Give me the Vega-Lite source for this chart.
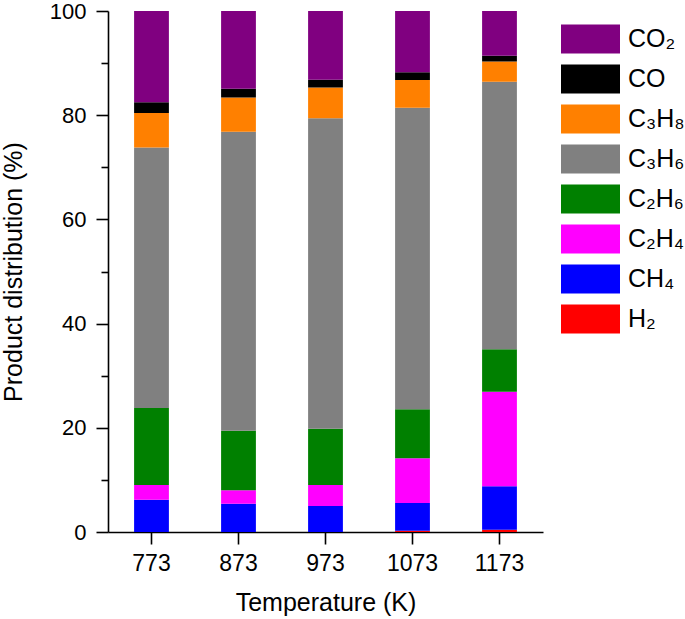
{
  "$schema": "https://vega.github.io/schema/vega-lite/v6.json",
  "width": 435,
  "height": 521,
  "autosize": "none",
  "padding": {"left": 108, "top": 11, "right": 142, "bottom": 87},
  "config": {
    "view": {"stroke": null},
    "font": "Liberation Sans",
    "axis": {
      "domainColor": "black",
      "domainWidth": 1.6,
      "tickColor": "black",
      "tickWidth": 1.6,
      "labelColor": "black",
      "titleColor": "black",
      "labelFont": "Liberation Sans",
      "titleFont": "Liberation Sans",
      "titleFontWeight": "normal",
      "grid": false
    }
  },
  "data": {
    "values": [
      {"T": "773", "gas": "H₂", "k": 1, "pct": 0},
      {"T": "773", "gas": "CH₄", "k": 2, "pct": 6.2},
      {"T": "773", "gas": "C₂H₄", "k": 3, "pct": 2.8},
      {"T": "773", "gas": "C₂H₆", "k": 4, "pct": 14.8},
      {"T": "773", "gas": "C₃H₆", "k": 5, "pct": 50.0},
      {"T": "773", "gas": "C₃H₈", "k": 6, "pct": 6.6},
      {"T": "773", "gas": "CO", "k": 7, "pct": 2.1},
      {"T": "773", "gas": "CO₂", "k": 8, "pct": 17.5},
      {"T": "873", "gas": "H₂", "k": 1, "pct": 0},
      {"T": "873", "gas": "CH₄", "k": 2, "pct": 5.4},
      {"T": "873", "gas": "C₂H₄", "k": 3, "pct": 2.6},
      {"T": "873", "gas": "C₂H₆", "k": 4, "pct": 11.45},
      {"T": "873", "gas": "C₃H₆", "k": 5, "pct": 57.35},
      {"T": "873", "gas": "C₃H₈", "k": 6, "pct": 6.6},
      {"T": "873", "gas": "CO", "k": 7, "pct": 1.7},
      {"T": "873", "gas": "CO₂", "k": 8, "pct": 14.9},
      {"T": "973", "gas": "H₂", "k": 1, "pct": 0},
      {"T": "973", "gas": "CH₄", "k": 2, "pct": 5.0},
      {"T": "973", "gas": "C₂H₄", "k": 3, "pct": 4.0},
      {"T": "973", "gas": "C₂H₆", "k": 4, "pct": 10.8},
      {"T": "973", "gas": "C₃H₆", "k": 5, "pct": 59.6},
      {"T": "973", "gas": "C₃H₈", "k": 6, "pct": 5.9},
      {"T": "973", "gas": "CO", "k": 7, "pct": 1.5},
      {"T": "973", "gas": "CO₂", "k": 8, "pct": 13.2},
      {"T": "1073", "gas": "H₂", "k": 1, "pct": 0.25},
      {"T": "1073", "gas": "CH₄", "k": 2, "pct": 5.3},
      {"T": "1073", "gas": "C₂H₄", "k": 3, "pct": 8.6},
      {"T": "1073", "gas": "C₂H₆", "k": 4, "pct": 9.4},
      {"T": "1073", "gas": "C₃H₆", "k": 5, "pct": 57.9},
      {"T": "1073", "gas": "C₃H₈", "k": 6, "pct": 5.3},
      {"T": "1073", "gas": "CO", "k": 7, "pct": 1.5},
      {"T": "1073", "gas": "CO₂", "k": 8, "pct": 11.75},
      {"T": "1173", "gas": "H₂", "k": 1, "pct": 0.45},
      {"T": "1173", "gas": "CH₄", "k": 2, "pct": 8.35},
      {"T": "1173", "gas": "C₂H₄", "k": 3, "pct": 18.1},
      {"T": "1173", "gas": "C₂H₆", "k": 4, "pct": 8.2},
      {"T": "1173", "gas": "C₃H₆", "k": 5, "pct": 51.3},
      {"T": "1173", "gas": "C₃H₈", "k": 6, "pct": 3.9},
      {"T": "1173", "gas": "CO", "k": 7, "pct": 1.1},
      {"T": "1173", "gas": "CO₂", "k": 8, "pct": 8.6}
    ]
  },
  "layer": [
    {
      "mark": {"type": "bar"},
      "encoding": {
        "x": {
          "field": "T",
          "type": "ordinal",
          "sort": ["773", "873", "973", "1073", "1173"],
          "scale": {"paddingInner": 0.6, "paddingOuter": 0.3},
          "axis": {
            "title": "Temperature (K)",
            "labelAngle": 0,
            "labelFontSize": 23,
            "titleFontSize": 25,
            "tickSize": 12,
            "labelPadding": 8,
            "titlePadding": 15
          }
        },
        "y": {
          "field": "pct",
          "type": "quantitative",
          "stack": "zero",
          "scale": {"domain": [0, 100], "nice": false},
          "axis": {
            "values": [0, 20, 40, 60, 80, 100],
            "title": "Product distribution (%)",
            "labelFontSize": 22,
            "titleFontSize": 25,
            "tickSize": 12,
            "labelPadding": 10,
            "titlePadding": 23
          }
        },
        "order": {"field": "k", "type": "quantitative", "sort": "ascending"},
        "color": {
          "field": "gas",
          "type": "nominal",
          "scale": {
            "domain": ["CO₂", "CO", "C₃H₈", "C₃H₆", "C₂H₆", "C₂H₄", "CH₄", "H₂"],
            "range": ["#800080", "#000000", "#FF8000", "#808080", "#008000", "#FF00FF", "#0000FF", "#FF0000"]
          },
          "legend": {
            "orient": "none",
            "legendX": 453,
            "legendY": 8,
            "title": null,
            "symbolType": "M-1,-0.49H1V0.49H-1Z",
            "symbolSize": 3481,
            "symbolStrokeWidth": 0,
            "symbolOpacity": 1,
            "labelFontSize": 25,
            "labelFont": "Liberation Sans",
            "labelColor": "black",
            "labelOffset": 8,
            "clipHeight": 40,
            "rowPadding": 0
          }
        }
      }
    },
    {
      "data": {"values": [{}]},
      "mark": {"type": "rule", "opacity": 0},
      "encoding": {
        "y": {
          "datum": 10,
          "type": "quantitative",
          "axis": {
            "orient": "left",
            "values": [10, 30, 50, 70, 90],
            "labels": false,
            "title": null,
            "domain": false,
            "tickSize": 7
          }
        }
      }
    }
  ],
  "resolve": {"axis": {"y": "independent"}}
}
